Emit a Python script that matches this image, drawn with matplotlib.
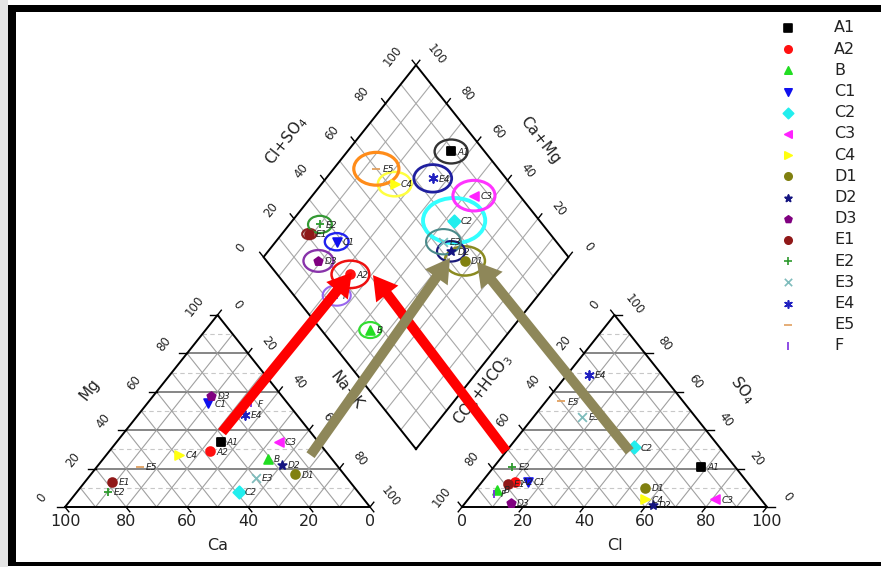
import numpy as np
import matplotlib.pyplot as plt
from matplotlib.patches import Ellipse, Rectangle, FancyArrowPatch, ArrowStyle

# --- Daten (Prozent meq) ---
samples = ['A1', 'A2', 'B', 'C1', 'C2', 'C3', 'C4', 'D1', 'D2', 'D3',
           'E1', 'E2', 'E3', 'E4', 'E5', 'F']
ca = np.array([32, 38, 21, 26, 39, 13, 49, 16, 18, 23, 78, 82, 30, 17, 65, 12])
mg = np.array([34, 29, 25, 54, 8, 34, 27, 17, 22, 58, 13, 8, 15, 48, 21, 54])
na_k = 100 - ca - mg
cl = np.array([68, 11, 7, 15, 41, 81, 58, 55, 62, 15, 9, 6, 16, 7, 5, 7])
so4 = np.array([21, 13, 9, 13, 31, 4, 4, 10, 1, 2, 12, 21, 47, 69, 55, 7])
hco3 = 100 - cl - so4
tds = np.array([540, 620, 360, 390, 1020, 690, 550, 660, 460, 490,
                230, 390, 570, 620, 740, 460])
ticks = [0, 20, 40, 60, 80, 100]

# --- Stil ---
markers = ['s', 'o', '^', 'v', 'D', '<', '>', 'o', '*', 'p',
           'o', '+', 'x', (6, 2, 0), '_', '|']
colors = ['black', '#ff1010', '#22dd22', '#1010ee', '#22eeee', '#ff22ff', '#ffff10',
          '#808010', '#141480', '#800080', '#901818', '#2e9a2e', '#7fbcbc',
          '#2020c0', '#e0a060', '#7a2ee0']
rings = ['#333333', '#ee1010', '#33dd33', '#2222ee', '#33ffff', '#ff33ff', '#ffff40',
         '#8a8a20', '#1a1a7a', '#8833aa', '#8b2020', '#339933', '#4a8a8a',
         '#1f1f9f', '#ff8c1a', '#9966ee']
ring_lw = [1.7, 1.8, 1.6, 1.7, 2.8, 2.2, 1.8, 1.8, 1.6, 1.7, 1.6, 1.6, 1.5, 2.0, 2.3, 1.5]

# --- Geometrie ---
H = np.sqrt(3) / 2
GAP = 92 / 305
OX = 1 + GAP
B0 = np.array([1 + GAP / 2, GAP * H])
U1 = np.array([-0.5, H])
U2 = np.array([0.5, H])
PT = 0.72  # px -> pt
TK = 0.025  # Ticklaenge


def cat_xy(na, m):
    return na + m / 2, m * H


def an_xy(c, s):
    return OX + c + s / 2, s * H


def dia_xy(cat, an):
    p = B0 + cat * U1 + an * U2
    return p[0], p[1]


def tick(p, d):
    ax.plot([p[0], p[0] + TK * d[0]], [p[1], p[1] + TK * d[1]], color='black', lw=1.0, zorder=2)


fig = plt.figure(figsize=(8.81, 5.67), dpi=100)
ax = fig.add_axes([0, 0, 1, 1])
ax.set_xlim(-65 / 305, (881 - 65) / 305)
ax.set_ylim((507 - 567) / 221.7, 507 / 221.7)
ax.axis('off')

# Gitter in den Dreiecken
for ox in [0, OX]:
    for k in range(1, 10):
        f = k / 10
        if k % 2 == 0:
            ax.plot([ox + f / 2, ox + 1 - f / 2], [f * H, f * H], color='#666666', lw=1.1, zorder=1)
        else:
            ax.plot([ox + f / 2, ox + 1 - f / 2], [f * H, f * H], color='#c8c8c8', lw=0.8,
                    ls=(0, (4, 3)), zorder=1)
        ax.plot([ox + f, ox + f + (1 - f) / 2], [0, (1 - f) * H], color='#a0a0a0', lw=0.8, zorder=1)
        ax.plot([ox + f, ox + f / 2], [0, f * H], color='#a0a0a0', lw=0.8, zorder=1)
    ax.plot([ox, ox + 1, ox + 0.5, ox], [0, 0, H, 0], color='black', lw=1.4, zorder=2)

# Gitter in der Raute
for k in range(1, 10):
    f = k / 10
    p, q = dia_xy(f, 0), dia_xy(f, 1)
    ax.plot([p[0], q[0]], [p[1], q[1]], color='#a8a8a8', lw=0.8, zorder=1)
    p, q = dia_xy(0, f), dia_xy(1, f)
    ax.plot([p[0], q[0]], [p[1], q[1]], color='#a8a8a8', lw=0.8, zorder=1)
corners = [dia_xy(0, 0), dia_xy(1, 0), dia_xy(1, 1), dia_xy(0, 1), dia_xy(0, 0)]
ax.plot([c[0] for c in corners], [c[1] for c in corners], color='black', lw=1.4, zorder=2)


def tlabel(xy, txt, dx, dy, rot=0, size=8.5):
    ax.annotate(txt, xy, xytext=(dx * PT, dy * PT), textcoords='offset points',
                ha='center', va='center', rotation=rot, fontsize=size, color='#222222')


for v in ticks:
    f = v / 100
    tlabel((1 - f, 0), str(v), 0, -14, size=11.5)
    tlabel((OX + f, 0), str(v), 0, -14, size=11.5)
    tlabel(cat_xy(0, f), str(v), -23, 9, rot=52)
    tlabel(cat_xy(f, 1 - f), str(v), 20, 10, rot=-52)
    tlabel(an_xy(0, 1 - f), str(v), -20, 10, rot=52)
    tlabel(an_xy(1 - f, f), str(v), 20, 10, rot=-52)
    tlabel(dia_xy(1, f), str(v), -23, 9, rot=52)
    tlabel(dia_xy(f, 1), str(v), 20, 10, rot=-52)
    # kleine Teilstriche
    tick((1 - f, 0), (0.5, -H))
    tick((OX + f, 0), (-0.5, -H))
    tick(cat_xy(0, f), (-1, 0))
    tick(cat_xy(f, 1 - f), (0.5, H))
    tick(an_xy(0, 1 - f), (-0.5, H))
    tick(an_xy(1 - f, f), (1, 0))
    tick(dia_xy(1, f), U1)
    tick(dia_xy(f, 1), U2)

# Achsentitel
tlabel(cat_xy(0, 0.5), 'Mg', -52, 22, rot=52, size=11)
tlabel(cat_xy(0.5, 0.5), 'Na+K', 53, 21, rot=-52, size=11)
tlabel(an_xy(0, 0.5), r'CO$_3$+HCO$_3$', -55, 21, rot=52, size=11)
tlabel(an_xy(0.5, 0.5), r'SO$_4$', 52, 21, rot=-52, size=11)
tlabel(dia_xy(1, 0.5), r'Cl+SO$_4$', -53, 21, rot=52, size=11)
tlabel(dia_xy(0.5, 1), 'Ca+Mg', 48, 21, rot=-52, size=11)
tlabel((0.5, 0), 'Ca', 0, -38, size=11.5)
tlabel((OX + 0.5, 0), 'Cl', 0, -38, size=11.5)

# Punkte
for i, name in enumerate(samples):
    pos = [cat_xy(na_k[i] / 100, mg[i] / 100),
           an_xy(cl[i] / 100, so4[i] / 100),
           dia_xy((ca[i] + mg[i]) / 100, (cl[i] + so4[i]) / 100)]
    for x, y in pos:
        ax.scatter(x, y, marker=markers[i], s=40, color=colors[i], linewidths=1.3, zorder=5)
        ax.annotate(name, (x, y), xytext=(4.5, -0.5), textcoords='offset points',
                    fontsize=6.5, style='italic', va='center', color='#222222', zorder=6)
    r = tds[i] / 10000
    ax.add_patch(Ellipse(pos[2], 2 * r, 2 * r, fill=False, ec=rings[i], lw=ring_lw[i], zorder=4))

# Pfeile
style = ArrowStyle.Simple(head_length=17, head_width=20, tail_width=7.2)
arrows = [
    (cat_xy(0.32, 0.39), dia_xy(0.67, 0.25), '#ff0000'),
    (an_xy(0.0, 0.29), dia_xy(0.594, 0.312), '#ff0000'),
    (cat_xy(0.67, 0.27), dia_xy(0.386, 0.609), '#8e8759'),
    (an_xy(0.405, 0.29), dia_xy(0.287, 0.687), '#8e8759'),
]
for a, b, c in arrows:
    ax.add_patch(FancyArrowPatch(a, b, arrowstyle=style, mutation_scale=1, color=c,
                                 shrinkA=0, shrinkB=0, lw=0, zorder=8))

# Legende und Rahmen (Pixelkoordinaten)
lax = fig.add_axes([0, 0, 1, 1])
lax.set_xlim(0, 881)
lax.set_ylim(567, 0)
lax.axis('off')
for i, name in enumerate(samples):
    y = 28 + 21.2 * i
    lax.scatter(788, y, marker=markers[i], s=28, color=colors[i], linewidths=1.2)
    lax.text(834, y, name, fontsize=11.5, va='center', ha='left', color='#222222')

lax.add_patch(Rectangle((0, 0), 8, 567, color='#e4e4e4', lw=0))
lax.add_patch(Rectangle((8, 5), 881, 7, color='black', lw=0))
lax.add_patch(Rectangle((8, 5), 8, 560, color='black', lw=0))
lax.add_patch(Rectangle((8, 562), 881, 4, color='black', lw=0))

fig.savefig('out.png', dpi=100)
